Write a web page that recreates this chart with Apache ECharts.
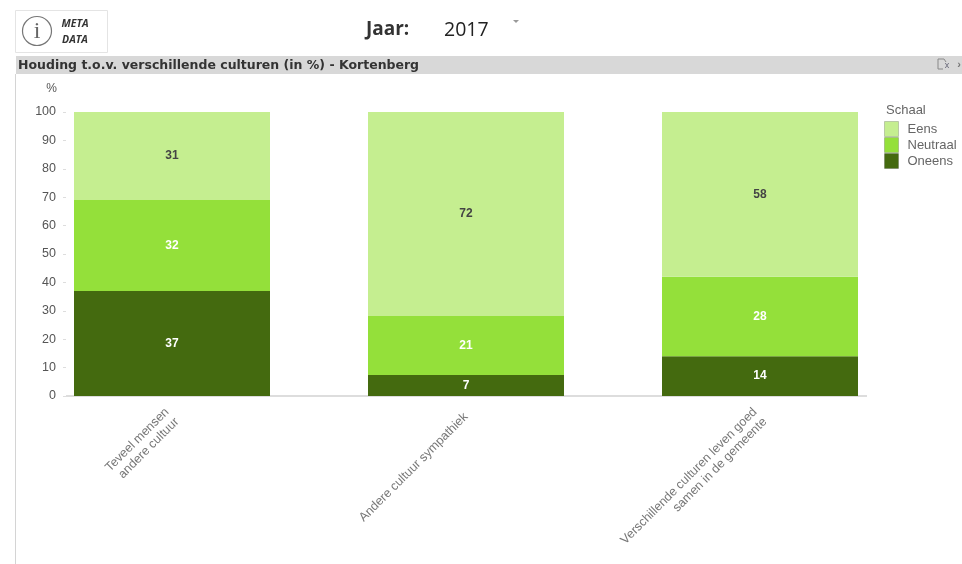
<!DOCTYPE html>
<html><head><meta charset="utf-8">
<style>html,body{margin:0;padding:0;background:#fff}#c{width:962px;height:564px}</style>
<script src="https://cdn.jsdelivr.net/npm/echarts@6/dist/echarts.min.js"></script>
</head><body><div id="c"></div>
<script>
const categories = ['Teveel mensen\nandere cultuur', 'Andere cultuur sympathiek', 'Verschillende culturen leven goed\nsamen in de gemeente'];
const oneens = [37, 7.4, 14];
const neutraal = [32, 20.8, 28];
const eens = [31, 71.8, 58];
const legendNames = ['Eens', 'Neutraal', 'Oneens'];
const titleText = 'Houding t.o.v. verschillende culturen (in %) - Kortenberg';
const yearLabel = 'Jaar:';
const yearValue = '2017';

const sans = '"Liberation Sans", Arial, sans-serif';
function series(name, data, color, labelColor) {
  return { name, type: 'bar', stack: 's', data, barWidth: 196, itemStyle: { color },
    label: { show: true, position: 'inside', color: labelColor, fontFamily: sans, fontWeight: 'bold', fontSize: 12,
      formatter: p => Math.round(p.value) } };
}
const chart = echarts.init(document.getElementById('c'), null, { renderer: 'canvas' });
chart.setOption({
  animation: false,
  backgroundColor: '#fff',
  grid: { left: 25, right: 55, top: 112, bottom: 168 },
  legend: { data: legendNames, orient: 'vertical', left: 884, top: 121, padding: 0, itemWidth: 14, itemHeight: 15, itemGap: 0, icon: 'rect', selectedMode: false,
    itemStyle: { borderColor: 'rgba(0,0,0,0.18)', borderWidth: 1 },
    textStyle: { fontFamily: sans, fontSize: 13, color: '#666', padding: [0, 0, 0, 4] } },
  xAxis: { type: 'category', data: categories, axisLine: { show: false }, axisTick: { show: false },
    axisLabel: { rotate: 45, interval: 0, margin: 19, fontFamily: sans, fontSize: 12.5, color: '#777', align: 'right', lineHeight: 14 } },
  yAxis: { type: 'value', min: 0, max: 100, interval: 10, offset: -41, splitLine: { show: false }, axisLine: { show: false },
    axisTick: { show: true, length: 3, lineStyle: { color: '#ddd' } },
    axisLabel: { margin: 10, fontFamily: sans, fontSize: 12.5, color: '#555' },
    name: '%', nameGap: 17, nameTextStyle: { fontFamily: sans, fontSize: 12, color: '#555', align: 'right', padding: [0, 9, 0, 0] } },
  series: [ series('Oneens', oneens, '#446A0F', '#fff'), series('Neutraal', neutraal, '#94E03A', '#fff'), series('Eens', eens, '#C5EE90', '#444') ],
  graphic: [
    { type: 'rect', silent: true, z: 0, shape: { x: 66, y: 395, width: 801, height: 2 }, style: { fill: '#ddd' } },
    { type: 'rect', silent: true, shape: { x: 16, y: 56, width: 946, height: 18 }, style: { fill: '#d8d8d8' } },
    { type: 'rect', silent: true, shape: { x: 15, y: 74, width: 1, height: 490 }, style: { fill: '#d4d4d4' } },
    { type: 'text', silent: true, style: { x: 18, y: 66, text: titleText, verticalAlign: 'middle', font: 'bold 12.5px "DejaVu Sans", sans-serif', fill: '#333' } },
    { type: 'text', silent: true, style: { x: 886, y: 110, text: 'Schaal', verticalAlign: 'middle', font: '13px ' + sans, fill: '#666' } },
    { type: 'rect', silent: true, shape: { x: 15.5, y: 10.5, width: 92, height: 42 }, style: { fill: '#fff', stroke: '#e4e4e4' } },
    { type: 'circle', silent: true, shape: { cx: 37, cy: 31, r: 14.5 }, style: { fill: '#fff', stroke: '#777', lineWidth: 1.2 } },
    { type: 'text', silent: true, style: { x: 37, y: 32, text: 'i', align: 'center', verticalAlign: 'middle', font: '24px "Liberation Serif", serif', fill: '#666' } },
    { type: 'text', silent: true, style: { x: 75, y: 24, text: 'META', align: 'center', verticalAlign: 'middle', font: 'italic bold 10.5px "Open Sans", sans-serif', fill: '#333' } },
    { type: 'text', silent: true, style: { x: 75, y: 40, text: 'DATA', align: 'center', verticalAlign: 'middle', font: 'italic bold 10.5px "Open Sans", sans-serif', fill: '#333' } },
    { type: 'text', silent: true, style: { x: 366, y: 30, text: yearLabel, verticalAlign: 'middle', font: 'bold 19px "Open Sans", sans-serif', fill: '#333' } },
    { type: 'text', silent: true, style: { x: 444, y: 30, text: yearValue, verticalAlign: 'middle', font: '19.5px "Open Sans", sans-serif', fill: '#222' } },
    { type: 'polygon', silent: true, shape: { points: [[513, 20], [519, 20], [516, 23]] }, style: { fill: '#999' } },
    { type: 'polyline', silent: true, shape: { points: [[943, 69], [938, 69], [938, 59], [944, 59], [946, 62]] }, style: { fill: 'none', stroke: '#888' } },
    { type: 'text', silent: true, style: { x: 947, y: 66, text: 'x', align: 'center', verticalAlign: 'middle', font: '9px ' + sans, fill: '#667' } },
    { type: 'text', silent: true, style: { x: 959, y: 65, text: '›', align: 'center', verticalAlign: 'middle', font: 'bold 11px ' + sans, fill: '#777' } }
  ]
});
</script></body></html>
